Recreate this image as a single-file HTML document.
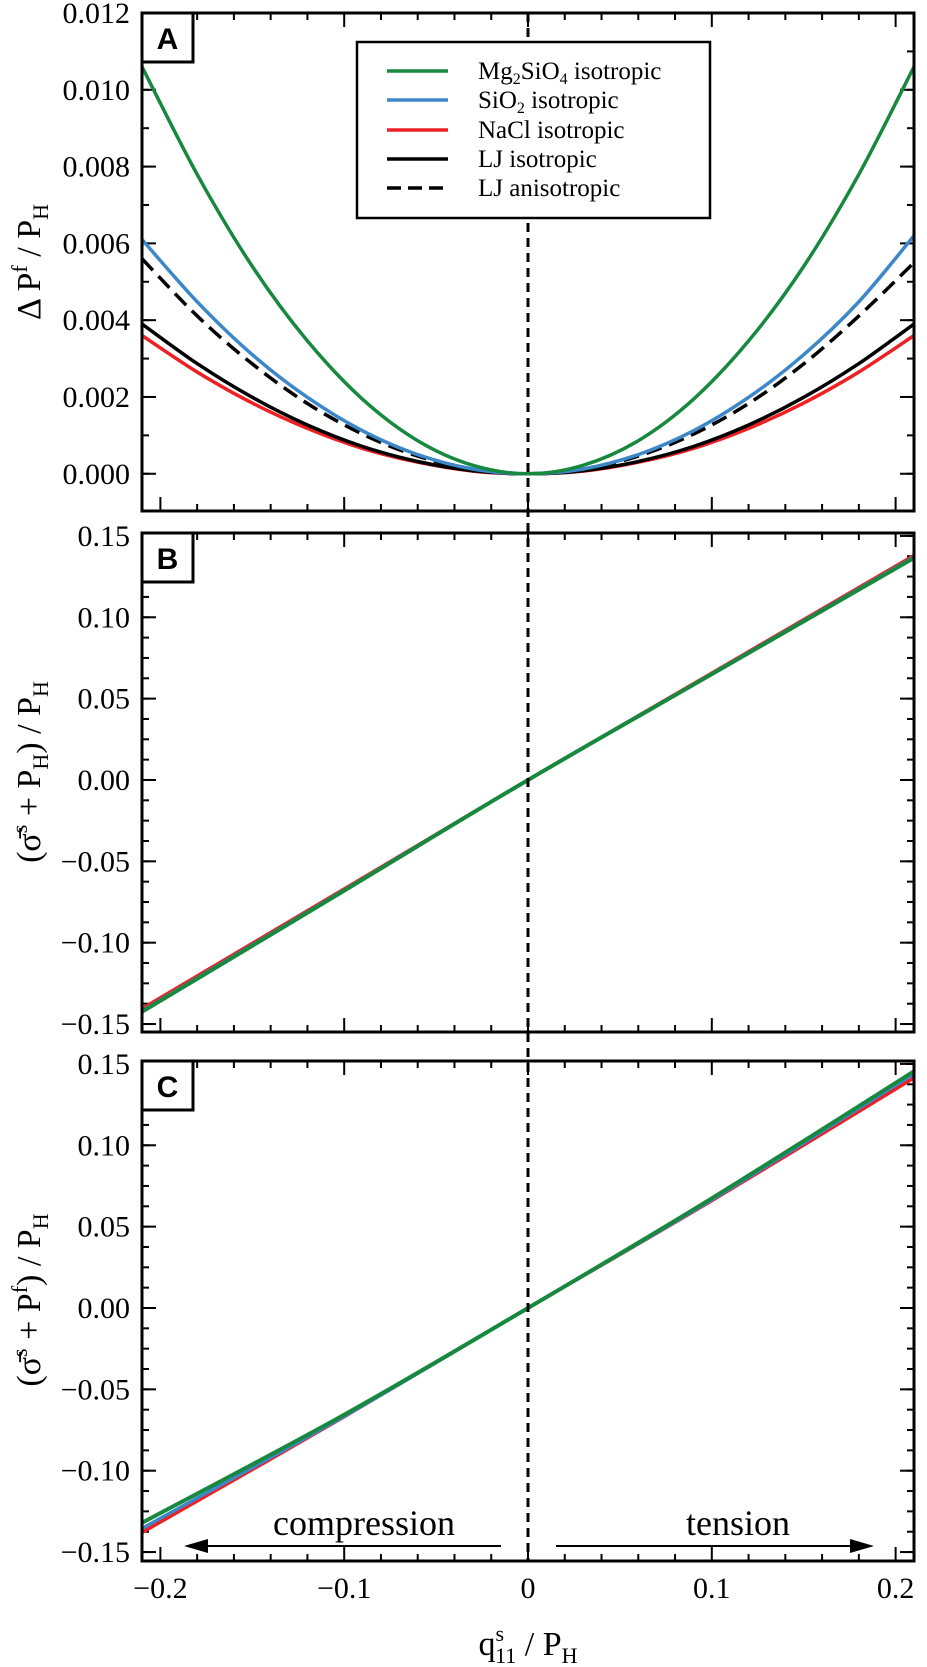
<!DOCTYPE html>
<html><head><meta charset="utf-8">
<style>
html,body{margin:0;padding:0;background:#fff;}
svg{display:block;font-family:"Liberation Serif",serif;}
</style></head>
<body>
<svg id="fig" width="927" height="1667" viewBox="0 0 927 1667" xmlns="http://www.w3.org/2000/svg"></svg>
<script>
// ---- data ----
const xPtsA = [-0.21,-0.18,-0.15,-0.12,-0.09,-0.06,-0.03,0,0.03,0.06,0.09,0.12,0.15,0.18,0.21];
const mgA   = [0.0106,0.0078,0.0054,0.00346,0.00194,0.00086,0.00022,0,0.00022,0.00086,0.00194,0.00346,0.0054,0.0078,0.0106];
const sioA  = [0.0061,0.00448,0.0031,0.00199,0.00112,0.0005,0.000124,0,0.000124,0.0005,0.00112,0.00199,0.0031,0.00448,0.0062];
const ljAnA = [0.0056,0.00411,0.00286,0.00183,0.00103,0.00046,0.000114,0,0.000114,0.00046,0.00103,0.00183,0.00286,0.00411,0.0055];
const ljA   = [0.0039,0.00287,0.00199,0.00127,0.00071,0.00032,0.00008,0,0.00008,0.00032,0.00071,0.00127,0.00199,0.00287,0.0039];
const naclA = [0.0036,0.00265,0.00184,0.00118,0.00066,0.0003,0.00007,0,0.00007,0.0003,0.00066,0.00118,0.00184,0.00265,0.0036];
const xPtsBC = [-0.21,-0.1,0,0.1,0.21];
const mgB   = [-0.1425,-0.068,0,0.065,0.1365];
const sioB  = [-0.142,-0.0677,0,0.0652,0.137];
const naclB = [-0.1405,-0.067,0,0.0657,0.138];
const mgC   = [-0.132,-0.0656,0,0.0674,0.1455];
const sioC  = [-0.1355,-0.0665,0,0.0665,0.144];
const naclC = [-0.138,-0.0668,0,0.066,0.1415];
const xTicks = [-0.2,-0.1,0,0.1,0.2];
const xTickLabels = ["\u22120.2","\u22120.1","0","0.1","0.2"];
const yTicksA = [0,0.002,0.004,0.006,0.008,0.010,0.012];
const yTickLabelsA = ["0.000","0.002","0.004","0.006","0.008","0.010","0.012"];
const yTicksBC = [-0.15,-0.10,-0.05,0,0.05,0.10,0.15];
const yTickLabelsBC = ["\u22120.15","\u22120.10","\u22120.05","0.00","0.05","0.10","0.15"];

const NS="http://www.w3.org/2000/svg";
const svg=document.getElementById('fig');
function el(tag,attrs,parent){const e=document.createElementNS(NS,tag);for(const k in attrs)e.setAttribute(k,attrs[k]);(parent||svg).appendChild(e);return e;}
const L=142,R=914,xmin=-0.21,xmax=0.21;
const xs=v=>L+(v-xmin)/(xmax-xmin)*(R-L);
const panels=[
 {name:'a',top:13,bot:511,ymin:-0.00097,ymax:0.012,major:yTicksA,labels:yTickLabelsA,minor:0.001,letter:'A'},
 {name:'b',top:533,bot:1032,ymin:-0.1549,ymax:0.1518,major:yTicksBC,labels:yTickLabelsBC,minor:0.0125,letter:'B'},
 {name:'c',top:1061,bot:1561,ymin:-0.1555,ymax:0.1518,major:yTicksBC,labels:yTickLabelsBC,minor:0.0125,letter:'C'}
];
panels.forEach(p=>{p.ys=v=>p.bot-(v-p.ymin)/(p.ymax-p.ymin)*(p.bot-p.top);});
function pathD(xa,ya,sx,sy){
 const P=xa.map((x,i)=>[sx(x),sy(ya[i])]);
 let d='M'+P[0][0].toFixed(1)+','+P[0][1].toFixed(1);
 for(let i=0;i<P.length-1;i++){
  const p0=P[Math.max(0,i-1)],p1=P[i],p2=P[i+1],p3=P[Math.min(P.length-1,i+2)];
  const c1=[p1[0]+(p2[0]-p0[0])/6,p1[1]+(p2[1]-p0[1])/6];
  const c2=[p2[0]-(p3[0]-p1[0])/6,p2[1]-(p3[1]-p1[1])/6];
  d+=' C'+c1[0].toFixed(1)+','+c1[1].toFixed(1)+' '+c2[0].toFixed(1)+','+c2[1].toFixed(1)+' '+p2[0].toFixed(1)+','+p2[1].toFixed(1);
 }
 return d;
}
const defs=el('defs',{});
panels.forEach(p=>{
 const cp=el('clipPath',{id:'clip-'+p.name},defs);
 el('rect',{x:L,y:p.top,width:R-L,height:p.bot-p.top},cp);
});
function series(p,xa,ya,color,w,dash,name){
 const e=el('path',{d:pathD(xa,ya,xs,p.ys),fill:'none',stroke:color,'stroke-width':w,'clip-path':'url(#clip-'+p.name+')'});
 if(dash)e.setAttribute('stroke-dasharray',dash);
 
 
}
const G='#17893e',B='#3b87c8',RD='#ee2024';
panels.forEach(p=>{
 const g=el('g',{});
 
 
 for(let k=-10;k<=10;k++){
  const v=k*0.02; const X=xs(v); const major=(k%5===0); const len=major?14:7;
  el('line',{x1:X,y1:p.bot,x2:X,y2:p.bot-len,stroke:'#000','stroke-width':2},g);
  el('line',{x1:X,y1:p.top,x2:X,y2:p.top+len,stroke:'#000','stroke-width':2},g);
 }
 const nMin=Math.ceil(p.ymin/p.minor-1e-6),nMax=Math.floor(p.ymax/p.minor+1e-6);
 for(let k=nMin;k<=nMax;k++){
  const v=k*p.minor;const Y=p.ys(v);
  el('line',{x1:L,y1:Y,x2:L+7,y2:Y,stroke:'#000','stroke-width':2},g);
  el('line',{x1:R,y1:Y,x2:R-7,y2:Y,stroke:'#000','stroke-width':2},g);
 }
 p.major.forEach((v,i)=>{
  const Y=p.ys(v);
  el('line',{x1:L,y1:Y,x2:L+14,y2:Y,stroke:'#000','stroke-width':2},g);
  el('line',{x1:R,y1:Y,x2:R-14,y2:Y,stroke:'#000','stroke-width':2},g);
  const t=el('text',{x:130,y:Y+10,'text-anchor':'end','font-size':30},g);
  t.textContent=p.labels[i];
  
  
 });
});
const pA=panels[0],pB=panels[1],pC=panels[2];
series(pA,xPtsA,naclA,RD,3.5,null,'nacl-curve-a');
series(pA,xPtsA,ljA,'#000',3.5,null,'lj-iso-curve-a');
series(pA,xPtsA,ljAnA,'#000',3.5,'16,8','lj-aniso-curve-a');
series(pA,xPtsA,sioA,B,3.5,null,'sio2-curve-a');
series(pA,xPtsA,mgA,G,3.5,null,'mg2sio4-curve-a');
series(pB,xPtsBC,naclB,RD,3.5,null,'nacl-line-b');
series(pB,xPtsBC,sioB,B,3.5,null,'sio2-line-b');
series(pB,xPtsBC,mgB,G,4,null,'mg2sio4-line-b');
series(pC,xPtsBC,naclC,RD,3.5,null,'nacl-line-c');
series(pC,xPtsBC,sioC,B,3.5,null,'sio2-line-c');
series(pC,xPtsBC,mgC,G,4,null,'mg2sio4-line-c');
const z=el('line',{x1:xs(0),y1:13,x2:xs(0),y2:1561,stroke:'#000','stroke-width':3,'stroke-dasharray':'9,6'});


panels.forEach(p=>{
 const f=el('rect',{x:L,y:p.top,width:R-L,height:p.bot-p.top,fill:'none',stroke:'#000','stroke-width':3});
 
 
 const b=el('rect',{x:L,y:p.top,width:51,height:49,fill:'#fff',stroke:'#000','stroke-width':3});
 
 
 const t=el('text',{x:L+25.5,y:p.top+36,'text-anchor':'middle','font-size':30,'font-weight':'bold','font-family':'Liberation Sans, sans-serif'});
 t.textContent=p.letter;
 
 
});
xTicks.forEach((v,i)=>{
 const t=el('text',{x:xs(v),y:1598,'text-anchor':'middle','font-size':30});
 t.textContent=xTickLabels[i];
 
 
});
</script>
<script>
(function(){
const svg=document.getElementById('fig');
svg.insertAdjacentHTML('beforeend',`
<g>
 <rect x="357" y="42" width="353" height="176" fill="#fff" stroke="#000" stroke-width="2.5"/>
 <g font-size="25">
 <line x1="387" y1="71" x2="448" y2="71" stroke="#17893e" stroke-width="3.5"/>
 <text x="478" y="79">Mg<tspan font-size="16" dy="5">2</tspan><tspan dy="-5">SiO</tspan><tspan font-size="16" dy="5">4</tspan><tspan dy="-5"> isotropic</tspan></text>
 <line x1="387" y1="100" x2="448" y2="100" stroke="#3b87c8" stroke-width="3.5"/>
 <text x="478" y="108">SiO<tspan font-size="16" dy="5">2</tspan><tspan dy="-5"> isotropic</tspan></text>
 <line x1="387" y1="130" x2="448" y2="130" stroke="#ee2024" stroke-width="3.5"/>
 <text x="478" y="138">NaCl isotropic</text>
 <line x1="387" y1="159" x2="448" y2="159" stroke="#000" stroke-width="3.5"/>
 <text x="478" y="167">LJ isotropic</text>
 <line x1="387" y1="188" x2="448" y2="188" stroke="#000" stroke-width="3.5" stroke-dasharray="14,7"/>
 <text x="478" y="196">LJ anisotropic</text>
 </g>
</g>
<text transform="translate(40,262) rotate(-90)" text-anchor="middle" font-size="34">Δ P<tspan font-size="22" dy="-13">f</tspan><tspan dy="13"> / P</tspan><tspan font-size="22" dy="8">H</tspan></text>
<text transform="translate(40,772) rotate(-90)" text-anchor="middle" font-size="34">(σ̄<tspan font-size="22" dy="-13">s</tspan><tspan dy="13"> + P</tspan><tspan font-size="22" dy="8">H</tspan><tspan dy="-8">) / P</tspan><tspan font-size="22" dy="8">H</tspan></text>
<text transform="translate(40,1300) rotate(-90)" text-anchor="middle" font-size="34">(σ̄<tspan font-size="22" dy="-13">s</tspan><tspan dy="13"> + P</tspan><tspan font-size="22" dy="-13">f</tspan><tspan dy="13">) / P</tspan><tspan font-size="22" dy="8">H</tspan></text>
<text x="528" y="1655" text-anchor="middle" font-size="34">q<tspan font-size="22" dy="-14">s</tspan><tspan font-size="22" dx="-9" dy="22">11</tspan><tspan dy="-8"> / P</tspan><tspan font-size="22" dy="8">H</tspan></text>
<g>
 <line x1="198" y1="1546" x2="501" y2="1546" stroke="#000" stroke-width="2"/>
 <polygon points="184,1546 208,1539 208,1553" fill="#000"/>
 <text x="364" y="1535" text-anchor="middle" font-size="36">compression</text>
</g>
<g>
 <line x1="556" y1="1546" x2="860" y2="1546" stroke="#000" stroke-width="2"/>
 <polygon points="874,1546 850,1539 850,1553" fill="#000"/>
 <text x="738" y="1535" text-anchor="middle" font-size="36">tension</text>
</g>`);
})();
</script>
</body></html>
